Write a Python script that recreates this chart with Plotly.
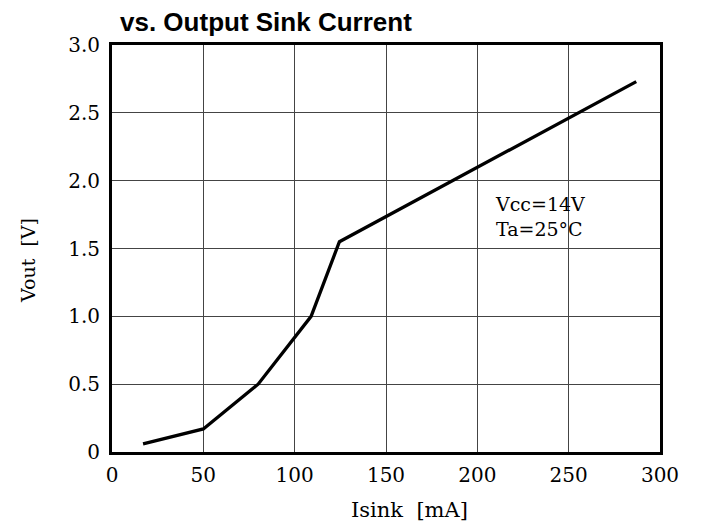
import plotly.graph_objects as go

isink_ma = [17, 50, 80, 109, 124.5, 287]
vout_v = [0.06, 0.17, 0.50, 1.00, 1.55, 2.73]

x_ticks = [0, 50, 100, 150, 200, 250, 300]
x_tick_labels = ["0", "50", "100", "150", "200", "250", "300"]
y_ticks = [0, 0.5, 1.0, 1.5, 2.0, 2.5, 3.0]
y_tick_labels = ["0", "0.5", "1.0", "1.5", "2.0", "2.5", "3.0"]

title_text = "<b>vs. Output Sink Current</b>"
note_lines = ["Vcc=14V", "Ta=25°C"]
x_title = "Isink  [mA]"
y_title = "Vout  [V]"

serif = "DejaVu Serif, Liberation Serif, serif"

fig = go.Figure()
fig.add_trace(go.Scatter(x=isink_ma, y=vout_v, mode="lines",
                         line=dict(color="black", width=3.3), showlegend=False,
                         hoverinfo="skip"))

fig.add_annotation(x=208.5, y=1.735, xref="x", yref="y", xanchor="left", yanchor="middle",
                   text="<br>".join(note_lines), showarrow=False, align="left",
                   font=dict(family=serif, size=19, color="black"))

fig.add_annotation(x=162.6, y=-0.1425, xref="x", yref="y domain", xanchor="center", yanchor="middle",
                   text=x_title, showarrow=False,
                   font=dict(family=serif, size=21, color="black"))
fig.add_annotation(x=-0.1533, y=1.415, xref="x domain", yref="y", xanchor="center", yanchor="middle",
                   text=y_title, showarrow=False, textangle=-90,
                   font=dict(family=serif, size=19, color="black"))

fig.update_layout(
    width=702, height=530,
    margin=dict(l=104, r=50, t=37, b=86),
    paper_bgcolor="white", plot_bgcolor="white",
    title=dict(text=title_text, x=112/702, xanchor="left", y=1-14/530, yanchor="middle",
               xref="container", yref="container",
               font=dict(family="Liberation Sans, Arial, sans-serif", size=26, color="black")),
)
fig.update_xaxes(range=[0, 300], tickvals=x_ticks, ticktext=x_tick_labels,
                 showgrid=True, gridcolor="#444", gridwidth=1,
                 showline=True, linecolor="black", linewidth=3, mirror=True,
                 ticks="", zeroline=False, ticklabelstandoff=3,
                 tickfont=dict(family=serif, size=20, color="black"))
fig.update_yaxes(range=[0, 3.0], tickvals=y_ticks, ticktext=y_tick_labels,
                 showgrid=True, gridcolor="#444", gridwidth=1,
                 showline=True, linecolor="black", linewidth=3, mirror=True,
                 ticks="", zeroline=False, ticklabelstandoff=5,
                 tickfont=dict(family=serif, size=20, color="black"))

fig.write_html("out.html")
